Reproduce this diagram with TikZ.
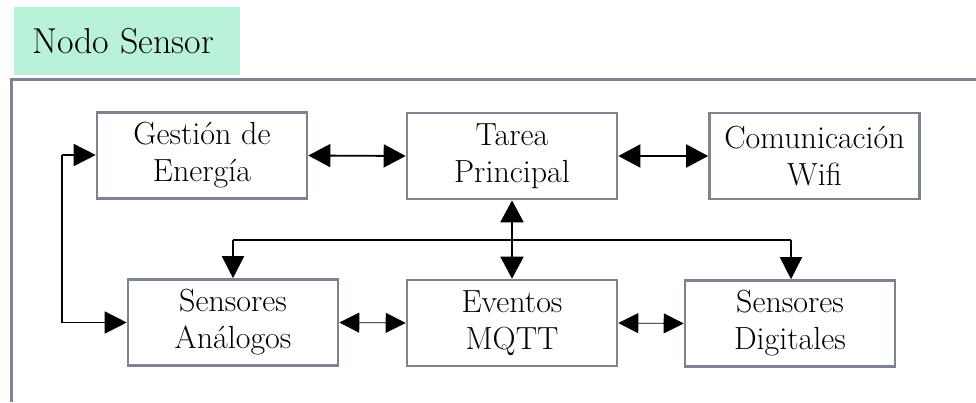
\documentclass[tikz,border=0pt]{standalone}
\usetikzlibrary{arrows.meta}
\definecolor{mint}{HTML}{B9F2D9}
\definecolor{frameg}{HTML}{7D8391}
\begin{document}
\begin{tikzpicture}[x=1pt,y=-1pt,
  blk/.style={draw=frameg,line width=2.6pt,fill=white,minimum width=210pt,minimum height=86pt,inner sep=0pt,align=center,font=\fontsize{32}{37}\selectfont},
  conn/.style={line width=1.8pt,{Triangle[length=22pt,width=23pt]}-{Triangle[length=22pt,width=23pt]}},
  thinconn/.style={line width=0.8pt,{Triangle[length=20pt,width=20pt]}-{Triangle[length=20pt,width=20pt]}},
  one/.style={line width=1.6pt,-{Triangle[length=22pt,width=22pt]}}]
\useasboundingbox (0,0) rectangle (976,402);
\fill[white] (0,0) rectangle (976,402);
% title
\node[fill=mint,minimum width=226pt,minimum height=68pt,inner sep=0pt,font=\fontsize{36}{40}\selectfont] (title) at (127,41) {\hspace*{-8pt}Nodo Sensor};
% outer frame
\draw[frameg,line width=3pt] (11,402) -- (11,79) -- (976,79);
% blocks
\node[blk] (ge) at (202,155.5) {Gestión de\\Energía};
\node[blk] (tp) at (512,156) {Tarea\\Principal};
\node[blk] (cw) at (814.5,156) {Comunicación\\Wifi};
\node[blk] (sa) at (233,322.5) {Sensores\\Análogos};
\node[blk] (em) at (512,323) {Eventos\\MQTT};
\node[blk] (sd) at (790,323.5) {Sensores\\Digitales};
% connectors
\draw[conn] (ge.east) -- (tp.west);
\draw[conn] (tp.east) -- (cw.west);
\draw[conn] (tp.south) -- (em.north);
\coordinate (bl) at (233,240);
\coordinate (br) at (791,240);
\draw[line width=1.6pt] (bl) -- (br);
\draw[one] (bl) -- (bl |- sa.north);
\draw[one] (br) -- (br |- sd.north);
\coordinate (lt) at (62,155);
\coordinate (lb) at (62,322.5);
\draw[line width=1.6pt] (lt) -- (lb);
\draw[one] (lt) -- (ge.west |- lt);
\draw[one] (lb) -- (sa.west |- lb);
\draw[thinconn] (sa.east) -- (em.west);
\draw[thinconn] (em.east) -- (sd.west);
\end{tikzpicture}
\end{document}
